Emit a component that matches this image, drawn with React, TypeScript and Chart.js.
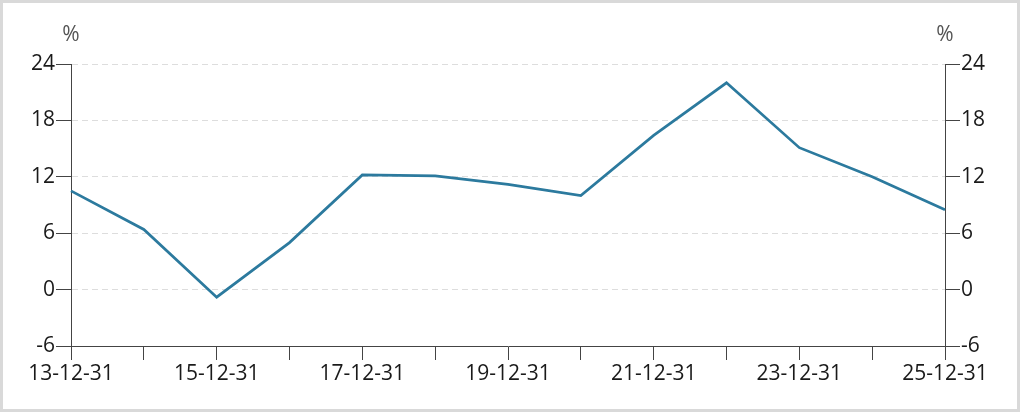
import React, { useEffect, useRef } from "react";
import { Chart, registerables } from "chart.js";

Chart.register(...registerables);

const categories = ["13-12-31", "14-12-31", "15-12-31", "16-12-31", "17-12-31", "18-12-31", "19-12-31", "20-12-31", "21-12-31", "22-12-31", "23-12-31", "24-12-31", "25-12-31"];
const values = [10.5, 6.4, -0.8, 5.0, 12.2, 12.1, 11.2, 10.0, 16.4, 22.0, 15.1, 12.0, 8.5];
const yTicks = [-6, 0, 6, 12, 18, 24];
const unitLabel = "%";

const FONT = "'Open Sans', 'Noto Sans', sans-serif";
const FS = 21;

const unitPlugin = {
  id: "unitLabels",
  afterDraw(chart: any) {
    const { ctx, chartArea } = chart;
    ctx.save();
    ctx.font = `${FS}px ${FONT}`;
    ctx.fillStyle = "#555";
    ctx.textAlign = "center";
    ctx.textBaseline = "middle";
    ctx.fillText(unitLabel, chartArea.left, chartArea.top - 29);
    ctx.fillText(unitLabel, chartArea.right, chartArea.top - 29);
    ctx.restore();
  },
};

export default function App() {
  const ref = useRef<HTMLCanvasElement | null>(null);
  useEffect(() => {
    if (!ref.current) return;
    const yCommon = (pos: "left" | "right", onArea: boolean) => ({
      type: "linear" as const,
      position: pos,
      min: yTicks[0],
      max: yTicks[yTicks.length - 1],
      afterBuildTicks: (s: any) => {
        s.ticks = yTicks.map((v) => ({ value: v }));
      },
      afterFit: (s: any) => {
        s.width = pos === "left" ? 68 : 72;
      },
      ticks: {
        color: "#1a1a1a",
        font: { size: FS, family: FONT },
        padding: 1,
      },
      grid: {
        drawOnChartArea: onArea,
        color: "#dddddd",
        lineWidth: 1,
        tickColor: "#444",
        tickLength: 15,
        tickWidth: 1,
      },
      border: { display: true, color: "#444", width: 1, dash: [6, 4] },
    });
    const chart = new Chart(ref.current, {
      type: "line",
      data: {
        labels: categories,
        datasets: [
          {
            data: values,
            borderColor: "#2c7a9e",
            borderWidth: 2.7,
            pointRadius: 0,
            tension: 0,
            fill: false,
          },
        ],
      },
      plugins: [unitPlugin],
      options: {
        animation: false,
        responsive: false,
        maintainAspectRatio: false,
        layout: { padding: { top: 61, left: 0, right: 0, bottom: 0 } },
        plugins: { legend: { display: false }, tooltip: { enabled: false }, title: { display: false } },
        scales: {
          x: {
            type: "category",
            offset: false,
            afterFit: (s: any) => {
              s.height = 63;
            },
            ticks: {
              autoSkip: false,
              maxRotation: 0,
              minRotation: 0,
              color: "#1a1a1a",
              font: { size: FS, family: FONT },
              padding: 1,
              callback: (_v: any, i: number) => (i % 2 === 0 ? categories[i] : ""),
            },
            grid: {
              drawOnChartArea: false,
              tickColor: "#444",
              tickLength: 14,
              tickWidth: 1,
            },
            border: { display: true, color: "#444", width: 1 },
          },
          y: yCommon("left", true),
          y2: yCommon("right", false),
        },
      },
    });
    return () => chart.destroy();
  }, []);
  return (
    <div
      style={{
        position: "absolute",
        left: 0,
        top: 0,
        width: 1020,
        height: 412,
        boxSizing: "border-box",
        border: "3px solid #d9d9d9",
        background: "#fff",
      }}
    >
      <canvas ref={ref} width={1014} height={406} style={{ display: "block" }} />
    </div>
  );
}
